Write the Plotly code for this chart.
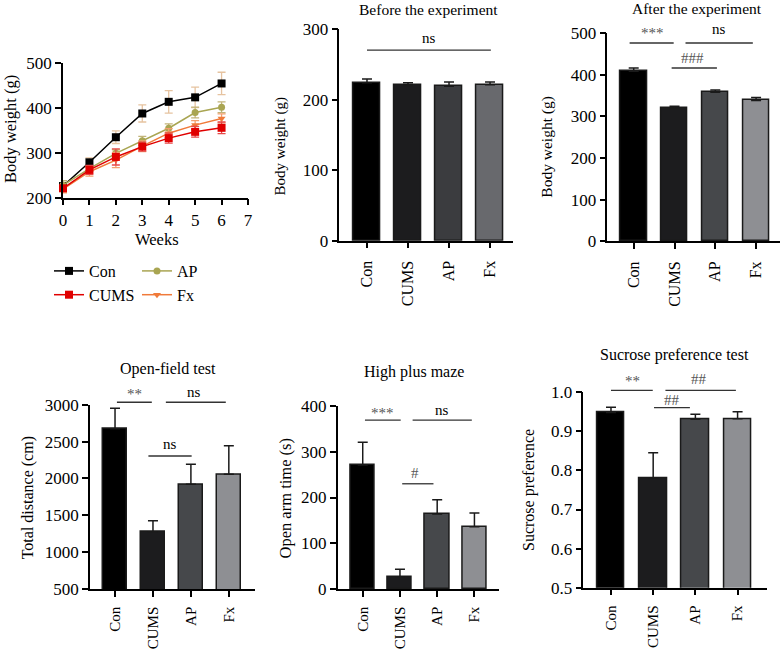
import plotly.graph_objects as go

W, H = 784, 650
FONT = "Liberation Serif"

# ---------------- data ----------------
weeks = [0, 1, 2, 3, 4, 5, 6]
con_bw = [226, 279, 335, 388, 414, 424, 455]
con_err = [8, 10, 14, 19, 25, 23, 25]
cums_bw = [221, 262, 291, 314, 333, 347, 356]
cums_err = [5, 10, 18, 10, 11, 12, 13]
ap_bw = [228, 265, 299, 327, 355, 390, 402]
ap_err = [10, 6, 8, 10, 10, 12, 12]
fx_bw = [219, 258, 284, 315, 344, 362, 377]
fx_err = [8, 10, 17, 12, 10, 10, 10]

groups = ["Con", "CUMS", "AP", "Fx"]
before = [224, 220, 219, 221]
before_err = [5, 4, 6, 4]
after = [408, 319, 358, 338]
after_err = [8, 5, 5, 7]
openfield = [2674, 1277, 1920, 2056]
openfield_err = [277, 150, 272, 388]
maze = [271, 27, 164, 136]
maze_err = [50, 16, 31, 30]
sucrose = [0.948, 0.781, 0.931, 0.932]
sucrose_err = [0.014, 0.064, 0.013, 0.018]

before_colors = ["#000000", "#1c1c1e", "#3b3c3f", "#68696d"]
bar_colors = ["#000000", "#1c1c1e", "#46484b", "#8e8f93"]

# significance: (x0, x1, y_line, label, x_label, y_label)
sig_before = [(0, 3.02, 270, "ns", 1.5, 287)]
sig_after = [(-0.1, 0.98, 476, "***", 0.45, 500),
             (1.27, 2.92, 476, "ns", 2.1, 510),
             (0.93, 2.04, 416, "###", 1.45, 440)]
sig_of = [(0.05, 0.97, 3033, "**", 0.5, 3150),
          (1.34, 2.92, 3033, "ns", 2.09, 3176),
          (0.88, 2.02, 2304, "ns", 1.45, 2471)]
sig_maze = [(0.06, 1.02, 369, "***", 0.52, 385),
            (1.34, 2.93, 369, "ns", 2.14, 391),
            (1.06, 1.9, 230, "#", 1.41, 253)]
sig_suc = [(0.0, 0.99, 1.005, "**", 0.5, 1.030),
           (1.29, 2.96, 1.005, "##", 2.08, 1.035),
           (1.02, 1.87, 0.961, "##", 1.44, 0.980)]


def px(x):
    return x / W


def py(y):
    return 1 - y / H


fig = go.Figure()

# ---------------- line chart ----------------
line_series = [
    ("Con", con_bw, con_err, "#000000", "#e6c3a0", "square", 8, "legend"),
    ("CUMS", cums_bw, cums_err, "#e00000", "#e84848", "square", 8, "legend"),
    ("AP", ap_bw, ap_err, "#a9a552", "#c2b47a", "circle", 7, "legend2"),
    ("Fx", fx_bw, fx_err, "#f07a3a", "#f3a070", "triangle-down", 7, "legend2"),
]
draw_order = [0, 2, 3, 1]
for idx in draw_order:
    name, vals, err, col, ecol, sym, ms, lg = line_series[idx]
    fig.add_trace(go.Scatter(
        x=weeks, y=vals, name=name, mode="lines+markers",
        line=dict(color=col, width=1.5),
        marker=dict(symbol=sym, size=ms, color=col),
        error_y=dict(type="data", array=err, color=ecol, thickness=1.3, width=4),
        xaxis="x", yaxis="y", cliponaxis=False, legend=lg, legendrank=idx,
    ))

# ---------------- bar charts ----------------
bar_panels = [
    (2, before, before_err, before_colors),
    (3, after, after_err, bar_colors),
    (4, openfield, openfield_err, bar_colors),
    (5, maze, maze_err, bar_colors),
    (6, sucrose, sucrose_err, bar_colors),
]
for n, vals, err, cols in bar_panels:
    fig.add_trace(go.Bar(
        x=list(range(len(groups))), y=vals, width=0.65,
        marker=dict(color=cols, line=dict(color="#1a1a1a", width=1.5)),
        error_y=dict(type="data", array=err, arrayminus=[0] * len(err),
                     symmetric=False, color="#1a1a1a", thickness=1.5, width=5),
        xaxis=f"x{n}", yaxis=f"y{n}", showlegend=False,
    ))

axis_common = dict(showline=True, linecolor="black", linewidth=1.5,
                   ticks="outside", tickwidth=1.5, ticklen=6, tickcolor="black",
                   showgrid=False, zeroline=False, automargin=False,
                   tickfont=dict(family=FONT, size=17, color="black"))

layout = dict(
    width=W, height=H, margin=dict(l=0, r=0, t=0, b=0, autoexpand=False),
    plot_bgcolor="white", paper_bgcolor="white",
    font=dict(family=FONT, color="black"),
    bargap=0,
)

# panel 1 axes
layout["xaxis"] = dict(axis_common, domain=[px(63), px(248)], anchor="y",
                       range=[0, 7], tickvals=list(range(8)))
layout["yaxis"] = dict(axis_common, domain=[py(197.7), py(63.3)], anchor="x",
                       range=[200, 500], tickvals=[200, 300, 400, 500])

panel_geo = {
    2: ([339.3, 513], [29, 240.7], [-0.675, 3.56], [0, 300], [0, 100, 200, 300], None),
    3: ([607.3, 780], [33, 241.3], [-0.647, 3.586], [0, 500], [0, 100, 200, 300, 400, 500], None),
    4: ([90, 255], [404.7, 589], [-0.66, 3.69], [500, 3000], [500, 1000, 1500, 2000, 2500, 3000], None),
    5: ([337.7, 499], [406, 589], [-0.672, 3.66], [0, 400], [0, 100, 200, 300, 400], None),
    6: ([583.3, 766.7], [392.3, 587.7], [-0.656, 3.69], [0.5, 1.0], [0.5, 0.6, 0.7, 0.8, 0.9, 1.0],
        ["0.5", "0.6", "0.7", "0.8", "0.9", "1.0"]),
}
for n, (xd, yd, xr, yr, yt, ytt) in panel_geo.items():
    xsize = 16 if n in (2, 3) else 15
    xstand = 6 if n in (2, 3) else 4
    layout[f"xaxis{n}"] = dict(axis_common, domain=[px(xd[0]), px(xd[1])], anchor=f"y{n}",
                               range=xr, tickvals=list(range(len(groups))), ticktext=groups,
                               tickangle=-90, ticklabelstandoff=xstand,
                               tickfont=dict(family=FONT, size=xsize, color="black"))
    ya = dict(axis_common, domain=[py(yd[1]), py(yd[0])], anchor=f"x{n}",
              range=yr, tickvals=yt)
    if ytt:
        ya["ticktext"] = ytt
    layout[f"yaxis{n}"] = ya

layout["legend"] = dict(x=px(49), y=py(254), xanchor="left", yanchor="top",
                        bgcolor="rgba(0,0,0,0)", tracegroupgap=0,
                        font=dict(family=FONT, size=16, color="black"))
layout["legend2"] = dict(x=px(137), y=py(254), xanchor="left", yanchor="top",
                         bgcolor="rgba(0,0,0,0)", tracegroupgap=0,
                         font=dict(family=FONT, size=16, color="black"))

annotations = []
shapes = []


def txt(x, y, s, size, angle=0, color="black"):
    annotations.append(dict(x=px(x), y=py(y), xref="paper", yref="paper", text=s,
                            showarrow=False, textangle=angle, xanchor="center",
                            yanchor="middle",
                            font=dict(family=FONT, size=size, color=color)))


# axis titles
txt(10, 129, "Body weight (g)", 16.5, -90)
txt(156.7, 239, "Weeks", 16.5)
txt(280.7, 146.7, "Body weight (g)", 15, -90)
txt(547, 146.7, "Body weight (g)", 15.5, -90)
txt(28.8, 497.5, "Total distance (cm)", 16, -90)
txt(284.5, 498, "Open arm time (s)", 16.5, -90)
txt(529, 490, "Sucrose preference", 16, -90)

# panel titles
txt(428.8, 10, "Before the experiment", 15.5)
txt(696.7, 8, "After the experiment", 15.5)
txt(167.5, 369, "Open-field test", 16)
txt(414, 371.5, "High plus maze", 16)
txt(674, 355, "Sucrose preference test", 16)


def dom(v, r):
    return (v - r[0]) / (r[1] - r[0])


sig_sets = {2: sig_before, 3: sig_after, 4: sig_of, 5: sig_maze, 6: sig_suc}
for n, sigs in sig_sets.items():
    xr, yr = panel_geo[n][2], panel_geo[n][3]
    for x0, x1, yl, lab, xl, ylab in sigs:
        shapes.append(dict(type="line", xref=f"x{n} domain", yref=f"y{n} domain",
                           x0=dom(x0, xr), x1=dom(x1, xr), y0=dom(yl, yr), y1=dom(yl, yr),
                           line=dict(color="#333333", width=1.3)))
        annotations.append(dict(x=dom(xl, xr), y=dom(ylab, yr),
                                xref=f"x{n} domain", yref=f"y{n} domain", text=lab,
                                showarrow=False, xanchor="center", yanchor="middle",
                                font=dict(family=FONT, size=15,
                                          color="#555555" if ("*" in lab or "#" in lab) else "black")))

layout["annotations"] = annotations
layout["shapes"] = shapes
fig.update_layout(**layout)

fig.write_html("out.html", post_script="document.body.style.margin='0';",
               config={"displayModeBar": False})
